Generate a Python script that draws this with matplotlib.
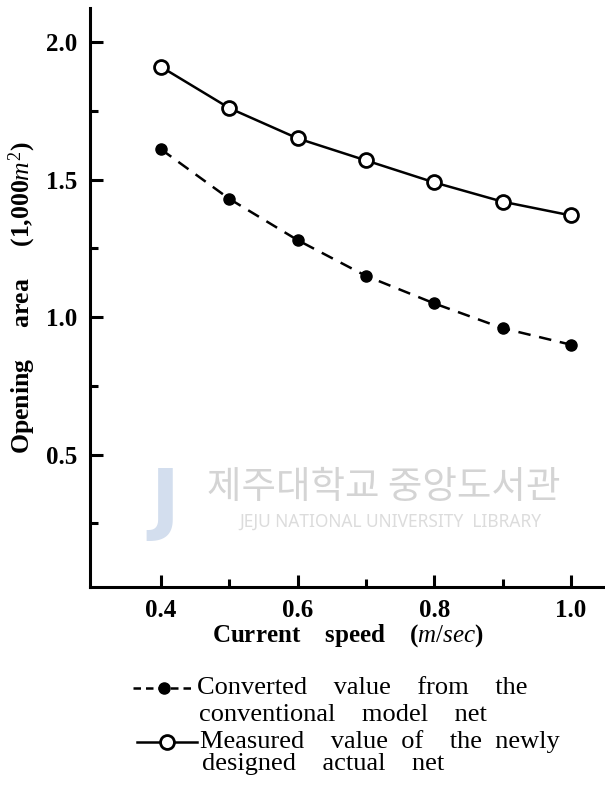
import matplotlib.pyplot as plt
from matplotlib.lines import Line2D

speed = [0.4, 0.5, 0.6, 0.7, 0.8, 0.9, 1.0]
converted = [1.61, 1.43, 1.28, 1.15, 1.05, 0.96, 0.90]
measured = [1.91, 1.76, 1.65, 1.57, 1.49, 1.42, 1.37]

x_ticks = [0.4, 0.6, 0.8, 1.0]
y_ticks = [0.5, 1.0, 1.5, 2.0]

plt.rcParams['font.family'] = ['Liberation Serif', 'DejaVu Serif']
plt.rcParams['mathtext.fontset'] = 'custom'
plt.rcParams['mathtext.rm'] = 'Liberation Serif'
plt.rcParams['mathtext.it'] = 'Liberation Serif:italic'
plt.rcParams['mathtext.bf'] = 'Liberation Serif:bold'

fig = plt.figure(figsize=(6.05, 8.07), dpi=100)
ax = fig.add_axes([0.149, 0.273, 0.851, 0.717])

# faint library watermark from the scan
wm = dict(transform=fig.transFigure, ha='center', va='center')
fig.text(0.634, 0.396, '제주대학교 중앙도서관', fontsize=27, color='#d4d4d4',
         family=['Noto Sans CJK KR', 'DejaVu Sans'], **wm)
fig.text(0.645, 0.353, 'JEJU NATIONAL UNIVERSITY  LIBRARY', fontsize=12.5, color='#dcdcdc',
         family=['Noto Sans', 'DejaVu Sans'], **wm)
fig.text(0.272, 0.377, 'J', fontsize=56, color='#d3deee', fontweight='bold',
         family=['DejaVu Sans'], **wm)

ax.plot(speed, converted, linestyle=(0, (5, 3.5)), color='black', linewidth=1.8,
        marker='o', markersize=8, markerfacecolor='black', zorder=3)
ax.plot(speed, measured, linestyle='-', color='black', linewidth=1.8,
        marker='o', markersize=10, markerfacecolor='white', markeredgewidth=2, zorder=3)

ax.set_xlim(0.296, 1.05)
ax.set_ylim(0.02, 2.124)
ax.set_xticks(x_ticks)
ax.set_xticklabels(['%.1f' % v for v in x_ticks], fontsize=18, fontweight='bold')
ax.set_yticks(y_ticks)
ax.set_yticklabels(['%.1f' % v for v in y_ticks], fontsize=18, fontweight='bold')
ax.set_xticks([0.5, 0.7, 0.9], minor=True)
ax.set_yticks([0.25, 0.75, 1.25, 1.75], minor=True)
ax.tick_params(which='major', direction='in', length=9, width=2.2, pad=9)
ax.tick_params(which='minor', direction='in', length=6, width=2.2)

for side in ['top', 'right']:
    ax.spines[side].set_visible(False)
for side in ['left', 'bottom']:
    ax.spines[side].set_linewidth(2.2)

ax.set_xlabel('Current    speed    ($\\mathbf{\\mathit{m/sec}}$)', fontsize=18,
              fontweight='bold', labelpad=0)
ax.set_ylabel('Opening     area     (1,000$\\mathit{m}^2$)', fontsize=18.5,
              fontweight='bold', labelpad=6)

# legend drawn below the axes
def fy(py):
    return 1 - py / 807.0

def fx(px):
    return px / 605.0

fig.add_artist(Line2D([fx(133), fx(195)], [fy(688), fy(688)], linestyle=(0, (3, 2)),
                      color='black', linewidth=1.8, transform=fig.transFigure))
fig.add_artist(Line2D([fx(164)], [fy(688)], marker='o', markersize=8, color='black',
                      transform=fig.transFigure))
fig.add_artist(Line2D([fx(137), fx(197)], [fy(742), fy(742)], linestyle='-',
                      color='black', linewidth=1.8, transform=fig.transFigure))
fig.add_artist(Line2D([fx(167)], [fy(742)], marker='o', markersize=10, color='black',
                      markerfacecolor='white', markeredgewidth=2, transform=fig.transFigure))

leg = dict(transform=fig.transFigure, fontsize=19, va='center', ha='left')
fig.text(fx(197), fy(688), 'Converted    value    from    the', **leg)
fig.text(fx(199), fy(715), 'conventional    model    net', **leg)
fig.text(fx(200), fy(742), 'Measured    value  of    the  newly', **leg)
fig.text(fx(202), fy(764), 'designed    actual    net', **leg)

fig.savefig('out.png', dpi=100)
